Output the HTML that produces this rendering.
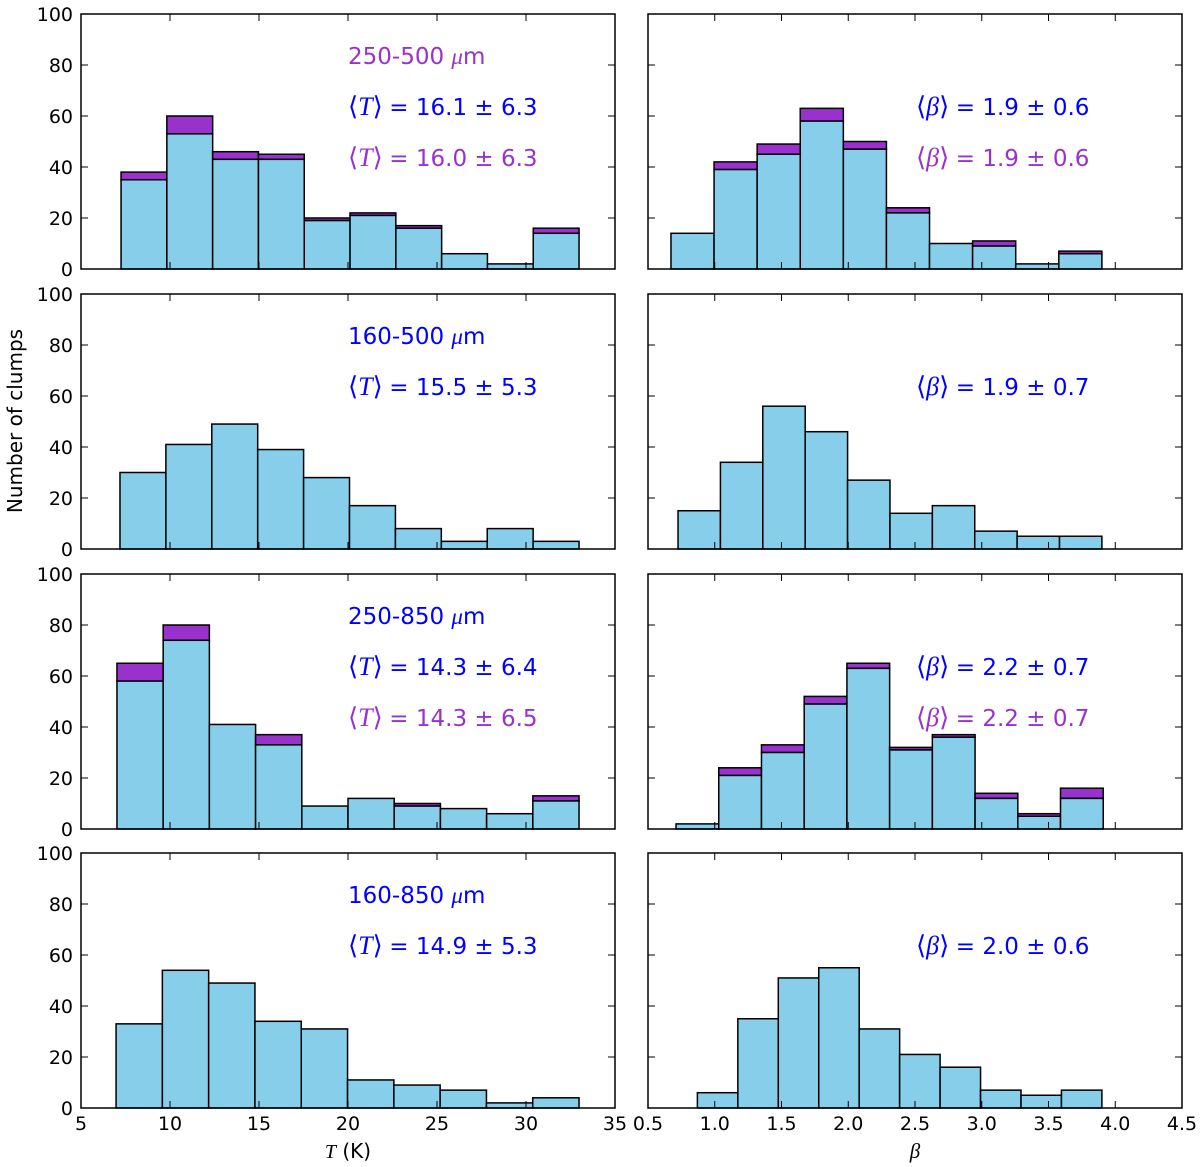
<!DOCTYPE html>
<html><head><meta charset="utf-8"><style>
html,body{margin:0;padding:0;background:#fff;}
svg{display:block;font-family:"DejaVu Sans","Liberation Sans",sans-serif;}
</style></head><body>
<svg id="chart" width="1200" height="1167" xmlns="http://www.w3.org/2000/svg"></svg>
<script>
// Temperature histograms (left column), per row: blue (fitted) and total (incl. purple)
const tBlue1=[35,53,43,43,19,21,16,6,2,14];
const tTot1=[38,60,46,45,20,22,17,6,2,16];
const tBlue2=[30,41,49,39,28,17,8,3,8,3];
const tTot2=[30,41,49,39,28,17,8,3,8,3];
const tBlue3=[58,74,41,33,9,12,9,8,6,11];
const tTot3=[65,80,41,37,9,12,10,8,6,13];
const tBlue4=[33,54,49,34,31,11,9,7,2,4];
const tTot4=[33,54,49,34,31,11,9,7,2,4];
const tRange=[[7.25,32.98],[7.19,32.98],[7.02,32.98],[6.97,32.98]];
// Beta histograms (right column)
const bBlue1=[14,39,45,58,47,22,10,9,2,6];
const bTot1=[14,42,49,63,50,24,10,11,2,7];
const bBlue2=[15,34,56,46,27,14,17,7,5,5];
const bTot2=[15,34,56,46,27,14,17,7,5,5];
const bBlue3=[2,21,30,49,63,31,36,12,5,12];
const bTot3=[2,24,33,52,65,32,37,14,6,16];
const bBlue4=[6,35,51,55,31,21,16,7,5,7];
const bTot4=[6,35,51,55,31,21,16,7,5,7];
const bRange=[[0.672,3.90],[0.725,3.90],[0.71,3.91],[0.87,3.90]];
const yTicks=[0,20,40,60,80,100];
const tTicks=[5,10,15,20,25,30,35];
const bTicks=["0.5","1.0","1.5","2.0","2.5","3.0","3.5","4.0","4.5"];
const leftTexts=[
 [["250-500 ","μm","#9932CC","title"],["T","= 16.1 ± 6.3","#0000FF","mean"],["T","= 16.0 ± 6.3","#9932CC","mean"]],
 [["160-500 ","μm","#0000FF","title"],["T","= 15.5 ± 5.3","#0000FF","mean"]],
 [["250-850 ","μm","#0000FF","title"],["T","= 14.3 ± 6.4","#0000FF","mean"],["T","= 14.3 ± 6.5","#9932CC","mean"]],
 [["160-850 ","μm","#0000FF","title"],["T","= 14.9 ± 5.3","#0000FF","mean"]]];
const rightTexts=[
 [["β","= 1.9 ± 0.6","#0000FF"],["β","= 1.9 ± 0.6","#9932CC"]],
 [["β","= 1.9 ± 0.7","#0000FF"]],
 [["β","= 2.2 ± 0.7","#0000FF"],["β","= 2.2 ± 0.7","#9932CC"]],
 [["β","= 2.0 ± 0.6","#0000FF"]]];

const NS="http://www.w3.org/2000/svg";
const svg=document.getElementById('chart');
function mk(tag,attrs,parent){const e=document.createElementNS(NS,tag);for(const k in attrs)e.setAttribute(k,attrs[k]);(parent||svg).appendChild(e);return e;}
const rowTop=[14,294,574,853],PH=255;
const cols=[{x0:81,x1:615,min:5,max:35},{x0:648,x1:1182,min:0.5,max:4.5}];
const tB=[tBlue1,tBlue2,tBlue3,tBlue4],tT=[tTot1,tTot2,tTot3,tTot4];
const bB=[bBlue1,bBlue2,bBlue3,bBlue4],bT=[bTot1,bTot2,bTot3,bTot4];

for(let r=0;r<4;r++){
 const top=rowTop[r],bot=top+PH;
 const yS=v=>bot-v/100*PH;
 for(let c=0;c<2;c++){
  const C=cols[c];
  const xS=v=>C.x0+(v-C.min)/(C.max-C.min)*(C.x1-C.x0);
  const g=mk('g',{});
  
  
  const blue=c==0?tB[r]:bB[r],tot=c==0?tT[r]:bT[r],rng=c==0?tRange[r]:bRange[r];
  const w=(rng[1]-rng[0])/blue.length;
  for(let i=0;i<blue.length;i++){
   const xa=xS(rng[0]+i*w),xb=xS(rng[0]+(i+1)*w);
   if(tot[i]>blue[i]){
    const p=mk('rect',{x:xa,y:yS(tot[i]),width:xb-xa,height:yS(blue[i])-yS(tot[i]),fill:'#9932CC',stroke:'#000','stroke-width':1.5},g);
    
    
   }
   const b=mk('rect',{x:xa,y:yS(blue[i]),width:xb-xa,height:bot-yS(blue[i]),fill:'#87CEEB',stroke:'#000','stroke-width':1.5},g);
   
   
  }
  const fr=mk('rect',{x:C.x0,y:top,width:C.x1-C.x0,height:PH,fill:'none',stroke:'#000','stroke-width':1.5},g);
  
  
  yTicks.forEach(v=>{
   const y=yS(v);
   mk('line',{x1:C.x0,x2:C.x0+7,y1:y,y2:y,stroke:'#000','stroke-width':1},g);
   mk('line',{x1:C.x1,x2:C.x1-7,y1:y,y2:y,stroke:'#000','stroke-width':1},g);
   if(c==0){const t=mk('text',{x:C.x0-8,y:y+7,'text-anchor':'end','font-size':19},g);t.textContent=v;
    
    }
  });
  const xt=c==0?tTicks:bTicks;
  xt.forEach(v=>{
   const x=xS(+v);
   mk('line',{x1:x,x2:x,y1:bot,y2:bot-7,stroke:'#000','stroke-width':1},g);
   mk('line',{x1:x,x2:x,y1:top,y2:top+7,stroke:'#000','stroke-width':1},g);
   if(r==3){const t=mk('text',{x:x,y:bot+22,'text-anchor':'middle','font-size':19},g);t.textContent=v;
    
    }
  });
  const texts=c==0?leftTexts[r]:rightTexts[r];
  texts.forEach((tx,k)=>{
   const kk=c==0?k:k+1;
   const t=mk('text',{x:c==0?348:916,y:top+50+kk*51,'font-size':23,fill:tx[2]},g);
   if(c==0&&tx[3]=='title'){
    t.textContent=tx[0];
    const s=mk('tspan',{'font-family':'Liberation Serif, serif','font-style':'italic'},t);s.textContent='μ';
    const s2=mk('tspan',{},t);s2.textContent='m';
    
   } else {
    const a=mk('tspan',{'font-family':'Liberation Serif, serif','font-size':26},t);a.textContent='⟨';
    const b=mk('tspan',{'font-family':'Liberation Serif, serif','font-style':'italic','font-size':26},t);b.textContent=tx[0];
    const d=mk('tspan',{'font-family':'Liberation Serif, serif','font-size':26},t);d.textContent='⟩ ';
    const e=mk('tspan',{},t);e.textContent=tx[1];
    
   }
   
  });
 }
}
let t=mk('text',{x:348,y:1158,'text-anchor':'middle','font-size':20});
let s=mk('tspan',{'font-family':'Liberation Serif, serif','font-style':'italic'},t);s.textContent='T';
s=mk('tspan',{},t);s.textContent=' (K)';


t=mk('text',{x:915,y:1158,'text-anchor':'middle','font-size':21,'font-family':'Liberation Serif, serif','font-style':'italic'});t.textContent='β';


t=mk('text',{x:0,y:0,'text-anchor':'middle','font-size':20,transform:'translate(22,421) rotate(-90)'});t.textContent='Number of clumps';


</script>
</body></html>
